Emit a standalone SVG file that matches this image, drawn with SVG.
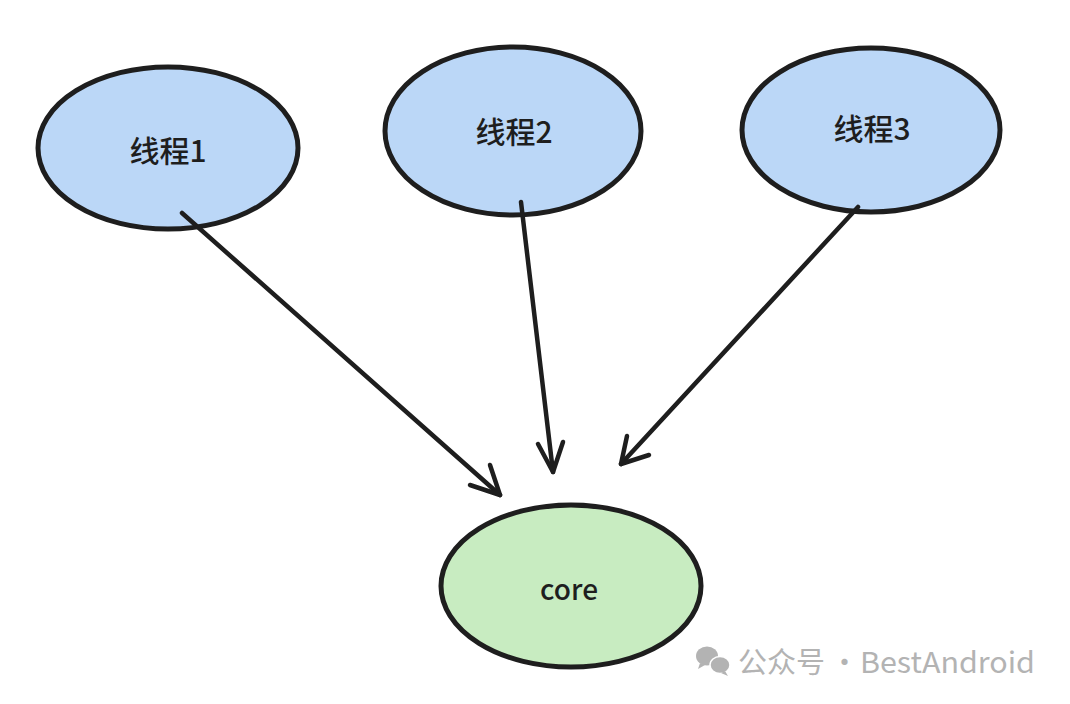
<svg xmlns="http://www.w3.org/2000/svg" width="1070" height="704" viewBox="0 0 1070 704">
<style>
.node{stroke:#1e1e1e;stroke-width:5}
.blue{fill:#bbd7f7}
.green{fill:#c8ecc1}
.lbl{font-family:"Noto Sans CJK SC","Noto Sans",sans-serif;font-size:30px;font-weight:500;fill:#1e1e1e;text-anchor:middle;dominant-baseline:central}
.edge{stroke:#1e1e1e;stroke-width:4.5;fill:none;stroke-linecap:round;stroke-linejoin:round}
.wm{font-family:"Noto Sans CJK SC","Noto Sans",sans-serif;font-size:29px;fill:#b3b3b3}
</style>
<rect width="1070" height="704" fill="#ffffff"/>
<g id="thread1">
<ellipse class="node blue" cx="168" cy="148" rx="130" ry="81"/>
<text class="lbl" x="168" y="149">线程1</text>
</g>
<g id="thread2">
<ellipse class="node blue" cx="513" cy="131" rx="128" ry="84"/>
<text class="lbl" x="514" y="130">线程2</text>
</g>
<g id="thread3">
<ellipse class="node blue" cx="871" cy="130" rx="129" ry="82"/>
<text class="lbl" x="872" y="127">线程3</text>
</g>
<g id="core">
<ellipse class="node green" cx="571" cy="586" rx="130" ry="81"/>
<text class="lbl" x="569" y="588" style="font-size:28px">core</text>
</g>
<g id="connectors">
<path class="edge" d="M182 213 L500 495"/>
<path class="edge" d="M470 485 L500 495 L490 465"/>
<path class="edge" d="M521 202 L553 472"/>
<path class="edge" d="M538 444 L553 472 L563 442"/>
<path class="edge" d="M858 207 L621 464"/>
<path class="edge" d="M627 436 L621 464 L649 455"/>
</g>
<g id="watermark">
<ellipse cx="707" cy="656" rx="11" ry="9.5" fill="#b3b3b3"/>
<path d="M700 663 L698 669 L705 665 Z" fill="#b3b3b3"/>
<ellipse cx="720" cy="665" rx="10" ry="8.5" fill="#b3b3b3" stroke="#fff" stroke-width="1.5"/>
<path d="M725 671 L728 676 L721 673 Z" fill="#b3b3b3"/>
<text class="wm" x="738" y="673">公众号<tspan x="830">·</tspan><tspan x="860" textLength="175" lengthAdjust="spacingAndGlyphs">BestAndroid</tspan></text>
</g>
</svg>
